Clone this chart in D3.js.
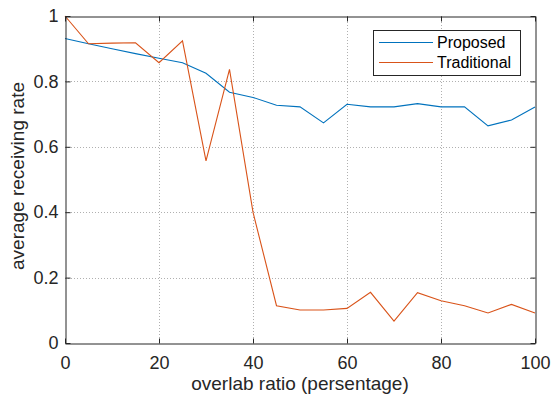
<!DOCTYPE html>
<html>
<head>
<meta charset="utf-8">
<script src="https://cdn.jsdelivr.net/npm/d3@7"></script>
<style>
  html, body { margin: 0; padding: 0; background: #fff; }
  svg { display: block; font-family: "Liberation Sans", Arial, Helvetica, sans-serif; }
</style>
</head>
<body>
<svg id="chart" width="551" height="398"></svg>
<script>
// Overlap ratio (%) on the x axis
const overlap = [0, 5, 10, 15, 20, 25, 30, 35, 40, 45, 50, 55, 60, 65, 70, 75, 80, 85, 90, 95, 100];
// Average receiving rate for each scheme
const proposed = [0.931, 0.915, 0.900, 0.885, 0.871, 0.857, 0.825, 0.767, 0.751, 0.727, 0.722, 0.673, 0.730, 0.722, 0.722, 0.732, 0.722, 0.722, 0.664, 0.682, 0.722];
const traditional = [1.0, 0.915, 0.917, 0.918, 0.857, 0.924, 0.557, 0.837, 0.400, 0.114, 0.101, 0.101, 0.106, 0.155, 0.067, 0.154, 0.129, 0.114, 0.092, 0.118, 0.092];
const xTicks = [0, 20, 40, 60, 80, 100];
const yTicks = [0, 0.2, 0.4, 0.6, 0.8, 1];
const seriesNames = ["Proposed", "Traditional"];
const seriesColors = ["#0072BD", "#D95319"];

const svg = d3.select("#chart");
const plotL = 65, plotR = 535, plotT = 16, plotB = 343;
const textColor = "#262626";

const x = d3.scaleLinear().domain([0, 100]).range([plotL, plotR]);
const y = d3.scaleLinear().domain([0, 1]).range([plotB, plotT]);

// dotted grid
const grid = svg.append("g").attr("stroke", "#b0b0b0").attr("stroke-width", 1).attr("stroke-dasharray", "1,2");
grid.selectAll("line.gx").data(xTicks.slice(1, -1)).join("line")
  .attr("x1", d => Math.round(x(d)) + 0.5).attr("x2", d => Math.round(x(d)) + 0.5)
  .attr("y1", plotT).attr("y2", plotB);
grid.selectAll("line.gy").data(yTicks.slice(1, -1)).join("line")
  .attr("y1", d => Math.round(y(d)) + 0.5).attr("y2", d => Math.round(y(d)) + 0.5)
  .attr("x1", plotL).attr("x2", plotR);

// series lines
const line = d3.line().x((d, i) => x(overlap[i])).y(d => y(d));
[proposed, traditional].forEach((s, k) => {
  svg.append("path").datum(s)
    .attr("fill", "none").attr("stroke", seriesColors[k]).attr("stroke-width", 1.1)
    .attr("d", line);
});

// axes: bottom and left with labels, top and right as ticks only
const tickLen = 5;
const axB = svg.append("g").attr("transform", `translate(0,${plotB + 0.5})`)
  .call(d3.axisBottom(x).tickValues(xTicks).tickSizeInner(-tickLen).tickSizeOuter(0).tickPadding(13).tickFormat(d3.format("d")));
const axL = svg.append("g").attr("transform", `translate(${plotL + 0.5},0)`)
  .call(d3.axisLeft(y).tickValues(yTicks).tickSizeInner(-tickLen).tickSizeOuter(0).tickPadding(7).tickFormat(d => d === 0 || d === 1 ? d3.format("d")(d) : d3.format(".1f")(d)));
const axT = svg.append("g").attr("transform", `translate(0,${plotT + 0.5})`)
  .call(d3.axisTop(x).tickValues(xTicks).tickSizeInner(-tickLen).tickSizeOuter(0).tickFormat(""));
const axR = svg.append("g").attr("transform", `translate(${plotR + 0.5},0)`)
  .call(d3.axisRight(y).tickValues(yTicks).tickSizeInner(-tickLen).tickSizeOuter(0).tickFormat(""));
[axB, axL, axT, axR].forEach(a => {
  a.selectAll(".domain").attr("stroke", textColor);
  a.selectAll(".tick line").attr("stroke", textColor);
  a.selectAll("text").attr("fill", textColor).style("font-size", "18px").style("font-family", "\"Liberation Sans\", Arial, sans-serif");
});

// axis titles
svg.append("text").attr("x", (plotL + plotR) / 2).attr("y", 390)
  .attr("text-anchor", "middle").attr("fill", textColor).style("font-size", "19px")
  .text("overlab ratio (persentage)");
svg.append("text").attr("transform", "translate(24,176) rotate(-90)")
  .attr("text-anchor", "middle").attr("fill", textColor).style("font-size", "19px")
  .text("average receiving rate");

// legend
const lg = svg.append("g");
lg.append("rect").attr("x", 373.5).attr("y", 30.5).attr("width", 147).attr("height", 45)
  .attr("fill", "#fff").attr("stroke", textColor).attr("stroke-width", 1);
seriesNames.forEach((name, i) => {
  const yy = 42.5 + i * 20;
  lg.append("line").attr("x1", 379).attr("x2", 433).attr("y1", yy).attr("y2", yy)
    .attr("stroke", seriesColors[i]).attr("stroke-width", 1.1);
  lg.append("text").attr("x", 437).attr("y", yy).attr("dy", "0.35em")
    .attr("fill", "#000").style("font-size", "16px").text(name);
});
</script>
</body>
</html>
